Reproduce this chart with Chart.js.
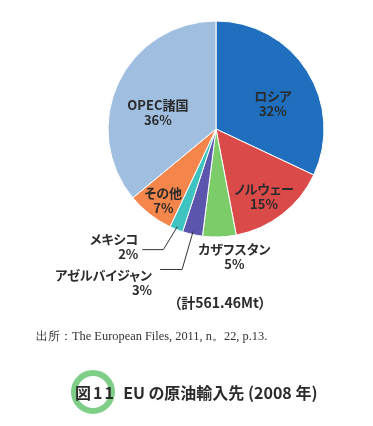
<!DOCTYPE html>
<html><head><meta charset="utf-8">
<script src="https://cdn.jsdelivr.net/npm/chart.js@4/dist/chart.umd.min.js"></script>
<style>
html,body{margin:0;padding:0;background:#fff;}
#wrap{position:relative;width:373px;height:426px;overflow:hidden;}
#c{position:absolute;left:0;top:0;}
.lbl{position:absolute;font-family:"Noto Sans CJK JP","Noto Sans",sans-serif;font-weight:700;font-size:13px;line-height:15px;color:#2b2b2b;white-space:nowrap;font-feature-settings:"palt";}
.lbl div{display:block}
#total{position:absolute;left:0;width:440px;top:292px;text-align:center;font-family:"Noto Sans CJK JP",sans-serif;font-weight:700;font-size:14px;color:#2b2b2b;font-feature-settings:"palt";}
#src{position:absolute;left:36px;top:328px;font-family:"Liberation Serif","DejaVu Serif",serif;font-size:12.4px;color:#333;white-space:nowrap;}
#ring{position:absolute;left:71px;top:370px;width:32px;height:32px;border:6px solid #7fce87;border-radius:50%;}
#title{position:absolute;left:75px;top:382px;font-family:"Noto Sans CJK JP",sans-serif;font-weight:700;font-size:16px;line-height:20px;color:#2b2b2b;white-space:nowrap;font-feature-settings:"palt";}
</style></head><body>
<div id="wrap">
<canvas id="c" width="373" height="426"></canvas>
<div id="labels"></div>
<div id="total">（計561.46Mt）</div>
<div id="src">出所：The European Files, 2011, n。22, p.13.</div>
<div id="ring"></div>
<div id="title"><span style="letter-spacing:2px">図11</span>&nbsp; EU の原油輸入先 (2008 年)</div>
</div>
<script>
const categories = ['ロシア','ノルウェー','カザフスタン','アゼルバイジャン','メキシコ','その他','OPEC諸国'];
const shares = [32,15,5,3,2,7,36];
const colors = ['#1f6fbe','#d94a48','#7ccc6a','#5b55ad','#3ec3c0','#f5864b','#a0bfe0'];

// label placement per slice (layout only)
const placement = [
  {mode:'in', rf:0.58, da:7.5},
  {mode:'in', rf:0.76, da:2},
  {mode:'below', dx:15, dy:4},
  {mode:'leader', elbow:[-11,35], len:22, tx:-8, ty:-2.5},
  {mode:'leader', elbow:[-14,20], len:21, tx:-4, ty:-18.5},
  {mode:'in', rf:0.82, da:-1.3},
  {mode:'in', rf:0.56, da:-9.3}
];

const labelBox = document.getElementById('labels');
const labelEls = categories.map((c,i)=>{
  const d = document.createElement('div');
  d.className='lbl';
  d.innerHTML = '<div>'+c+'</div><div>'+shares[i]+'%</div>';
  labelBox.appendChild(d);
  return d;
});

const labelPlugin = {
  id:'labelPlugin',
  afterDraw(chart){
    const ctx = chart.ctx;
    const meta = chart.getDatasetMeta(0);
    meta.data.forEach((arc,i)=>{
      const p = placement[i];
      const el = labelEls[i];
      const {x,y,startAngle,endAngle,outerRadius} = arc.getProps(['x','y','startAngle','endAngle','outerRadius'],true);
      const mid = (startAngle+endAngle)/2;
      if(p.mode==='in'){
        const a = mid + p.da*Math.PI/180;
        const lx = x + Math.cos(a)*outerRadius*p.rf;
        const ly = y + Math.sin(a)*outerRadius*p.rf;
        el.style.textAlign='center';
        el.style.left = lx+'px'; el.style.top = ly+'px';
        el.style.transform='translate(-50%,-50%)';
      } else if(p.mode==='below'){
        const ex = x + Math.cos(mid)*outerRadius;
        const ey = y + Math.sin(mid)*outerRadius;
        el.style.textAlign='center';
        el.style.left = (ex+p.dx)+'px'; el.style.top = (ey+p.dy)+'px';
        el.style.transform='translate(-50%,0)';
      } else {
        const ex = x + Math.cos(mid)*(outerRadius-3);
        const ey = y + Math.sin(mid)*(outerRadius-3);
        const bx = ex + p.elbow[0], by = ey + 3 + p.elbow[1];
        const hx = bx - p.len;
        ctx.save();
        ctx.strokeStyle='#333'; ctx.lineWidth=1;
        ctx.beginPath();
        ctx.moveTo(ex,ey); ctx.lineTo(bx,by); ctx.lineTo(hx,by);
        ctx.stroke();
        ctx.restore();
        el.style.textAlign='right';
        el.style.left = (hx+p.tx)+'px'; el.style.top = (by+p.ty)+'px';
        el.style.transform='translate(-100%,0)';
      }
    });
  }
};

new Chart(document.getElementById('c'),{
  type:'pie',
  data:{labels:categories,datasets:[{data:shares,backgroundColor:colors,borderColor:'#ffffff',borderWidth:1}]},
  options:{
    responsive:false,animation:false,
    radius:108,
    layout:{padding:{left:59,right:0,top:0,bottom:168}},
    plugins:{legend:{display:false},tooltip:{enabled:false}}
  },
  plugins:[labelPlugin]
});
</script>
</body></html>
